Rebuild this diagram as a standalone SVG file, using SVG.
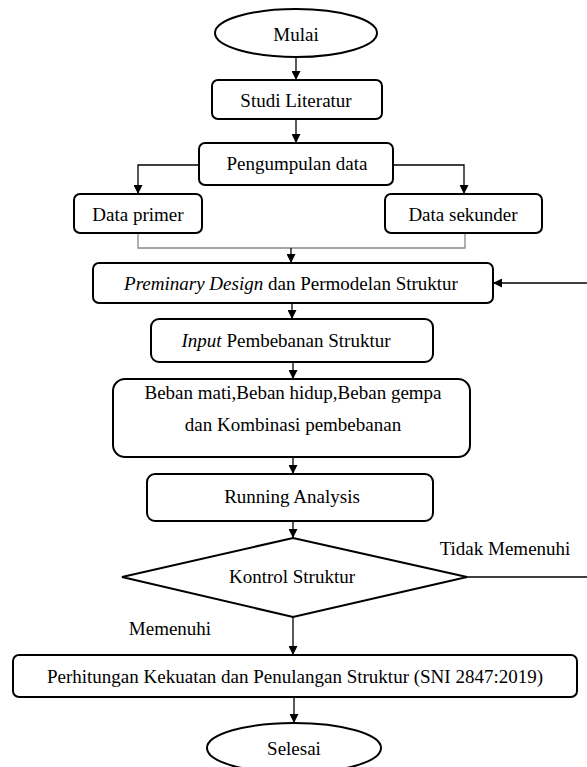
<svg xmlns="http://www.w3.org/2000/svg" width="587" height="767" viewBox="0 0 587 767">
<defs>
<marker id="ah" viewBox="0 0 10 10" refX="10" refY="5" markerWidth="9" markerHeight="9" markerUnits="userSpaceOnUse" orient="auto">
<path d="M0,0 L10,5 L0,10 z" fill="#000"/>
</marker>
<style>
.box{fill:#fff;stroke:#000;stroke-width:2}
.t{font-family:"Liberation Serif","Times New Roman",serif;font-size:19px;fill:#000;text-anchor:middle}
.c{fill:none;stroke:#000;stroke-width:1.3}
.g{fill:none;stroke:#888;stroke-width:1.3}
</style>
</defs>
<rect width="587" height="767" fill="#fff"/>
<g id="connectors">
<path class="c" d="M296,57 V80" marker-end="url(#ah)"/>
<path class="c" d="M296,119 V143" marker-end="url(#ah)"/>
<path class="c" d="M199,165 H138 V194" marker-end="url(#ah)"/>
<path class="c" d="M393,165 H464 V194" marker-end="url(#ah)"/>
<path class="g" d="M138,233 V248 H465 V233"/>
<path class="c" d="M291,248 V263" marker-end="url(#ah)"/>
<path class="c" d="M292,303 V319" marker-end="url(#ah)"/>
<path class="c" d="M293,362 V379" marker-end="url(#ah)"/>
<path class="c" d="M293,457 V474" marker-end="url(#ah)"/>
<path class="c" d="M293,521 V538" marker-end="url(#ah)"/>
<path class="c" d="M293,617 V655" marker-end="url(#ah)"/>
<path class="c" d="M294,697 V723" marker-end="url(#ah)"/>
<path class="c" d="M467,577 H592 V283 H493" marker-end="url(#ah)"/>
</g>
<g id="mulai"><ellipse class="box" cx="296" cy="33" rx="81" ry="24"/><text class="t" x="296" y="41">Mulai</text></g>
<g id="studi"><rect class="box" x="212" y="80" width="170" height="39" rx="6"/><text class="t" x="296" y="107">Studi Literatur</text></g>
<g id="pengumpulan"><rect class="box" x="199" y="143" width="194" height="42" rx="6"/><text class="t" x="297" y="170">Pengumpulan data</text></g>
<g id="primer"><rect class="box" x="74" y="194" width="128" height="39" rx="6"/><text class="t" x="138" y="221">Data primer</text></g>
<g id="sekunder"><rect class="box" x="385" y="194" width="157" height="39" rx="6"/><text class="t" x="463" y="221">Data sekunder</text></g>
<g id="preminary"><rect class="box" x="93" y="263" width="400" height="40" rx="6"/><text class="t" x="291" y="290"><tspan font-style="italic">Preminary Design</tspan> dan Permodelan Struktur</text></g>
<g id="input"><rect class="box" x="151" y="319" width="282" height="43" rx="8"/><text class="t" x="286" y="347"><tspan font-style="italic">Input</tspan> Pembebanan Struktur</text></g>
<g id="beban"><rect class="box" x="113" y="379" width="357" height="78" rx="12"/><text class="t" x="293" y="399">Beban mati,Beban hidup,Beban gempa</text><text class="t" x="293" y="431">dan Kombinasi pembebanan</text></g>
<g id="running"><rect class="box" x="147" y="474" width="286" height="47" rx="8"/><text class="t" x="292" y="503">Running Analysis</text></g>
<g id="kontrol"><polygon class="box" points="293,538 467,577 293,617 122,577"/><text class="t" x="292" y="583">Kontrol Struktur</text></g>
<text class="t" x="505" y="555">Tidak Memenuhi</text>
<text class="t" x="170" y="635">Memenuhi</text>
<g id="perhitungan"><rect class="box" x="13" y="655" width="564" height="42" rx="6"/><text class="t" x="295" y="683">Perhitungan Kekuatan dan Penulangan Struktur (SNI 2847:2019)</text></g>
<g id="selesai"><ellipse class="box" cx="294" cy="748" rx="87" ry="25"/><text class="t" x="294" y="755">Selesai</text></g>
</svg>
